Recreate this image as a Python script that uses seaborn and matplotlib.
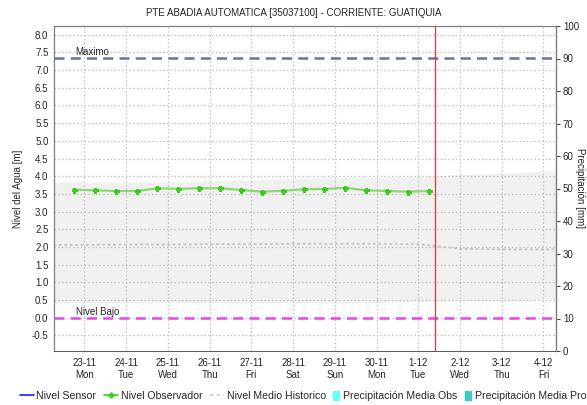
import matplotlib
matplotlib.use("Agg")
import matplotlib.pyplot as plt
import matplotlib.dates as mdates
from matplotlib.lines import Line2D
from matplotlib.patches import Patch
import pandas as pd
import seaborn as sns

# ---- data -------------------------------------------------------------
title = "PTE ABADIA AUTOMATICA [35037100] - CORRIENTE: GUATIQUIA"

obs_times = [
    "2020-11-22 18:00", "2020-11-23 06:00", "2020-11-23 18:00", "2020-11-24 06:00",
    "2020-11-24 18:00", "2020-11-25 06:00", "2020-11-25 18:00", "2020-11-26 06:00",
    "2020-11-26 18:00", "2020-11-27 06:00", "2020-11-27 18:00", "2020-11-28 06:00",
    "2020-11-28 18:00", "2020-11-29 06:00", "2020-11-29 18:00", "2020-11-30 06:00",
    "2020-11-30 18:00", "2020-12-01 06:00",
]
obs_level = [3.62, 3.60, 3.58, 3.58, 3.66, 3.64, 3.66, 3.66, 3.61,
             3.565, 3.585, 3.63, 3.64, 3.67, 3.60, 3.58, 3.565, 3.58]

hist_dates = [
    "2020-11-22", "2020-11-23", "2020-11-24", "2020-11-25", "2020-11-26",
    "2020-11-27", "2020-11-28", "2020-11-29", "2020-11-30", "2020-12-01",
    "2020-12-02", "2020-12-03", "2020-12-04", "2020-12-05",
]
hist_upper = [3.82, 3.83, 3.83, 3.84, 3.86, 3.90, 3.93, 3.95, 3.96, 3.97,
              4.05, 4.08, 4.15, 4.16]
hist_lower = [0.42, 0.42, 0.42, 0.43, 0.43, 0.42, 0.42, 0.42, 0.43, 0.46,
              0.47, 0.48, 0.52, 0.55]
hist_mean = [2.06, 2.06, 2.07, 2.07, 2.08, 2.08, 2.09, 2.09, 2.09, 2.08,
             1.95, 1.93, 1.93, 1.93]

nivel_maximo = 7.35
nivel_bajo = 0.0
now_time = "2020-12-01 09:50"

tick_days = [
    "2020-11-23", "2020-11-24", "2020-11-25", "2020-11-26", "2020-11-27",
    "2020-11-28", "2020-11-29", "2020-11-30", "2020-12-01", "2020-12-02",
    "2020-12-03", "2020-12-04",
]
tick_labels = [
    "23-11\nMon", "24-11\nTue", "25-11\nWed", "26-11\nThu", "27-11\nFri",
    "28-11\nSat", "29-11\nSun", "30-11\nMon", "1-12\nTue", "2-12\nWed",
    "3-12\nThu", "4-12\nFri",
]
x_limits = ("2020-11-22 06:30", "2020-12-04 07:12")
level_limits = (-0.94, 8.245)
level_ticks = [-0.5, 0.0, 0.5, 1.0, 1.5, 2.0, 2.5, 3.0, 3.5, 4.0, 4.5,
               5.0, 5.5, 6.0, 6.5, 7.0, 7.5, 8.0]
precip_limits = (0, 100)
precip_ticks = [0, 10, 20, 30, 40, 50, 60, 70, 80, 90, 100]

line_labels = ["Nivel Sensor", "Nivel Observador", "Nivel Medio Historico"]
bar_labels = ["Precipitación Media Obs", "Precipitación Media Pronosticada"]

# ---- style ------------------------------------------------------------
sns.set_style("white")
plt.rcParams["font.family"] = ["Liberation Sans", "DejaVu Sans"]
plt.rcParams["font.size"] = 7

obs = pd.DataFrame({"fecha": pd.to_datetime(obs_times), "nivel": obs_level})
hist = pd.DataFrame({
    "fecha": pd.to_datetime(hist_dates),
    "max": hist_upper, "min": hist_lower, "media": hist_mean,
})

fig = plt.figure(figsize=(5.87, 4.05), dpi=100)
ax = fig.add_axes([54 / 587, 54 / 405, 502 / 587, 325 / 405])

# historic range band and historic mean
ax.fill_between(hist["fecha"], hist["min"], hist["max"],
                color="#f0f0f0", lw=0, zorder=0)
sns.lineplot(data=hist, x="fecha", y="media", ax=ax, color="#c4c4c4",
             lw=1.3, linestyle=(0, (1.5, 1.5)), zorder=1)

# reference levels
ax.axhline(nivel_maximo, color="#6673a3", lw=1.8, linestyle=(0, (4, 2.5)), zorder=3)
ax.axhline(nivel_bajo, color="#f040f0", lw=1.8, linestyle=(0, (4, 2.5)), zorder=3)
ax.annotate("Maximo", (pd.Timestamp("2020-11-22 18:40"), nivel_maximo),
            xytext=(0, 0.5), textcoords="offset points", va="bottom",
            ha="left", fontsize=7)
ax.annotate("Nivel Bajo", (pd.Timestamp("2020-11-22 19:00"), nivel_bajo),
            xytext=(0, 0.5), textcoords="offset points", va="bottom",
            ha="left", fontsize=7)

# observer readings
sns.lineplot(data=obs, x="fecha", y="nivel", ax=ax, color="#8cd870", lw=1.6,
             marker="P", markersize=3.6, markerfacecolor="#3cc81e",
             markeredgecolor="#3cc81e", zorder=4)

# current time marker
ax.axvline(pd.Timestamp(now_time), color="#e03838", lw=0.9, zorder=5)

# axes formatting
ax.set_xlim(pd.Timestamp(x_limits[0]), pd.Timestamp(x_limits[1]))
ax.set_ylim(*level_limits)
ax.set_yticks(level_ticks)
ax.set_yticklabels([f"{v:.1f}" for v in level_ticks])
ax.set_xticks(pd.to_datetime(tick_days))
ax.set_xticklabels(tick_labels, linespacing=1.2)
ax.xaxis.set_minor_locator(mdates.HourLocator(interval=1))
ax.tick_params(axis="x", which="major", length=2.5, width=0.6, color="#202020",
               pad=2.5, labelsize=7)
ax.tick_params(axis="x", which="minor", length=1.5, width=0.5, color="#202020")
ax.tick_params(axis="y", length=0, pad=4, labelsize=7)
ax.grid(True, which="major", color="#c2c2c2", linestyle=(0, (1.2, 1.8)), lw=0.9)
ax.set_axisbelow(True)
ax.set_xlabel("")
ax.set_ylabel("Nivel del Agua [m]", fontsize=7, va="center")
ax.yaxis.set_label_coords(-0.072, 0.5)
for side in ("left", "top", "right"):
    ax.spines[side].set_color("#808080")
    ax.spines[side].set_linewidth(0.9)
ax.spines["bottom"].set_color("#404040")
ax.spines["bottom"].set_linewidth(0.6)

# precipitation axis on the right
ax2 = ax.twinx()
ax2.set_ylim(*precip_limits)
ax2.set_yticks(precip_ticks)
ax2.tick_params(axis="y", length=3, width=0.7, color="#404040", pad=2, labelsize=7)
ax2.set_ylabel("Precipitación [mm]", rotation=270, fontsize=7, va="center")
ax2.yaxis.set_label_coords(1.048, 0.5)
for side in ("left", "top", "bottom"):
    ax2.spines[side].set_visible(False)
ax2.spines["right"].set_color("#808080")
ax2.spines["right"].set_linewidth(0.9)

fig.text(0.5, 1 - 13 / 405, title, ha="center", va="center", fontsize=7)

# legend: line series, then precipitation series with narrow boxes
line_handles = [
    Line2D([], [], color="#1a1aff", lw=1.2),
    Line2D([], [], color="#44cc22", lw=1.2, marker="P", markersize=3.5),
    Line2D([], [], color="#c8c8c8", lw=1.2, linestyle=(0, (2, 2))),
]
bar_handles = [Patch(color="#66ffff"), Patch(color="#44c8c8")]
legend_y = 1 - 396 / 405
leg1 = fig.legend(line_handles, line_labels, loc="center left",
                  bbox_to_anchor=(20 / 587, legend_y), ncol=3, frameon=False,
                  fontsize=7.6, handlelength=1.3, handletextpad=0.25,
                  columnspacing=0.75, borderaxespad=0, borderpad=0)
fig.legend(bar_handles, bar_labels, loc="center left",
           bbox_to_anchor=(333 / 587, legend_y), ncol=2, frameon=False,
           fontsize=7.6, handlelength=0.6, handleheight=0.95, handletextpad=0.35,
           columnspacing=0.7, borderaxespad=0, borderpad=0)

fig.savefig("out.png", dpi=100)
